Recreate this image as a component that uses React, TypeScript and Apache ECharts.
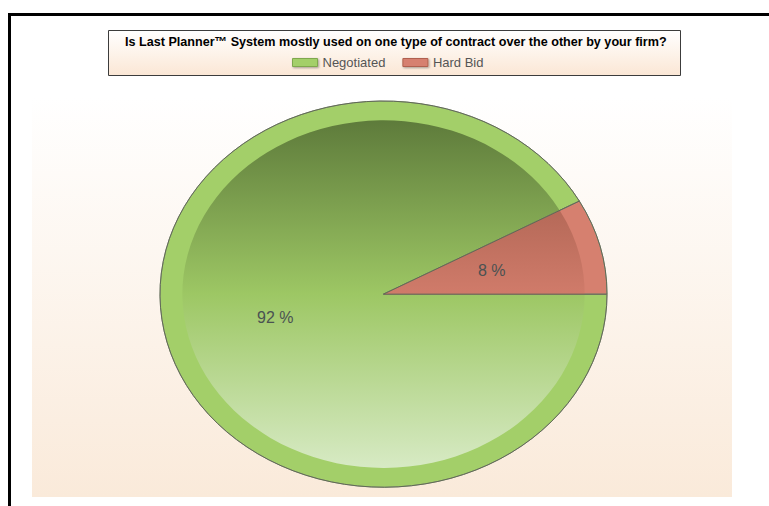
import React, { useEffect, useRef } from "react";
import * as echarts from "echarts";

const titleText =
  "Is Last Planner\u2122 System mostly used on one type of contract over the other by your firm?";
const categories = ["Negotiated", "Hard Bid"];
const values = [92, 8];
const valueLabels = ["92 %", "8 %"];

const ringColors = ["#a3cf69", "#d6806f"];
const legendBorders = ["#7fa84e", "#b0604f"];
const innerStops = [
  [
    { offset: 0, color: "#5e7b3b" },
    { offset: 0.5, color: "#9dc764" },
    { offset: 1, color: "#d7eac4" },
  ],
  [
    { offset: 0, color: "#985645" },
    { offset: 0.5, color: "#d07b6a" },
    { offset: 1, color: "#e8b4a6" },
  ],
];

const CX = 383.5;
const CY = 294;
const RX = 223.5;
const RY = 193;
const INNER = 0.9;

export default function App() {
  const ref = useRef<HTMLDivElement>(null);

  useEffect(() => {
    if (!ref.current) return;
    const chart = echarts.init(ref.current, null, { renderer: "svg" });
    const total = values.reduce((a, b) => a + b, 0);
    const s = RY / RX;

    const makeRender = (i: number) => (params: any, api: any) => {
      const before = values.slice(0, i).reduce((a, b) => a + b, 0);
      const v = api.value(0);
      const start = (before / total) * Math.PI * 2;
      const end = start + (v / total) * Math.PI * 2;
      const mid = (start + end) / 2;
      const lr = 0.5 * RX;
      const common = { scaleY: s, originX: CX, originY: CY };
      return {
        type: "group",
        children: [
          {
            type: "sector",
            ...common,
            shape: { cx: CX, cy: CY, r0: 0, r: RX, startAngle: start, endAngle: end, clockwise: true },
            style: { fill: ringColors[i], stroke: "#8a9280", lineWidth: 1 },
          },
          {
            type: "sector",
            ...common,
            shape: { cx: CX, cy: CY, r0: 0, r: RX * INNER, startAngle: start, endAngle: end, clockwise: true },
            style: {
              fill: new echarts.graphic.LinearGradient(
                0,
                CY - RX * INNER,
                0,
                CY + RX * INNER,
                innerStops[i],
                true
              ),
            },
          },
          {
            type: "sector",
            ...common,
            shape: { cx: CX, cy: CY, r0: 0, r: RX, startAngle: start, endAngle: end, clockwise: true },
            style: { fill: "none", stroke: "#5d6652", lineWidth: 1 },
          },
          {
            type: "text",
            x: CX + lr * Math.cos(mid),
            y: CY + lr * Math.sin(mid) * s,
            style: {
              text: valueLabels[i],
              fill: "#4a5252",
              font: "16px 'Liberation Sans', Arial, sans-serif",
              align: "center",
              verticalAlign: "middle",
            },
          },
        ],
      };
    };

    const option: any = {
      animation: false,
      backgroundColor: "#ffffff",
      title: {
        text: titleText,
        left: 125,
        top: 35,
        padding: 0,
        textStyle: {
          fontSize: 12.6,
          fontWeight: "bold",
          color: "#000000",
          fontFamily: "'Liberation Sans', Arial, sans-serif",
        },
      },
      legend: {
        left: 292,
        top: 56,
        padding: 0,
        itemWidth: 25,
        itemHeight: 8,
        itemGap: 17,
        icon: "rect",
        textStyle: {
          fontSize: 13,
          color: "#555555",
          fontFamily: "'Liberation Sans', Arial, sans-serif",
        },
        data: categories.map((c, i) => ({
          name: c,
          itemStyle: {
            color: ringColors[i],
            borderColor: legendBorders[i],
            borderWidth: 1,
            shadowBlur: 2,
            shadowOffsetX: 1,
            shadowOffsetY: 1,
            shadowColor: "rgba(0,0,0,0.35)",
          },
        })),
      },
      graphic: [
        {
          type: "rect",
          z: 0,
          shape: { x: 32, y: 97, width: 700, height: 400 },
          style: {
            fill: new echarts.graphic.LinearGradient(0, 0, 0, 1, [
              { offset: 0, color: "#ffffff" },
              { offset: 1, color: "#faeada" },
            ]),
          },
        },
        {
          type: "rect",
          z: 0,
          shape: { x: 108.5, y: 30.5, width: 572, height: 45 },
          style: {
            fill: new echarts.graphic.LinearGradient(0, 0, 0, 1, [
              { offset: 0, color: "#ffffff" },
              { offset: 1, color: "#fbe7d5" },
            ]),
            stroke: "#3c3c3c",
            lineWidth: 1,
          },
        },
        {
          type: "rect",
          z: 0,
          shape: { x: 8, y: 13, width: 761, height: 3 },
          style: { fill: "#000000" },
        },
        {
          type: "rect",
          z: 0,
          shape: { x: 8, y: 13, width: 3, height: 493 },
          style: { fill: "#000000" },
        },
      ],
      series: categories.map((c, i) => ({
        type: "custom",
        name: c,
        coordinateSystem: "none",
        itemStyle: { color: ringColors[i] },
        data: [[values[i]]],
        renderItem: makeRender(i),
      })),
    };

    chart.setOption(option);
    return () => chart.dispose();
  }, []);

  return (
    <div
      ref={ref}
      style={{ position: "fixed", left: 0, top: 0, width: 769, height: 506 }}
    />
  );
}
